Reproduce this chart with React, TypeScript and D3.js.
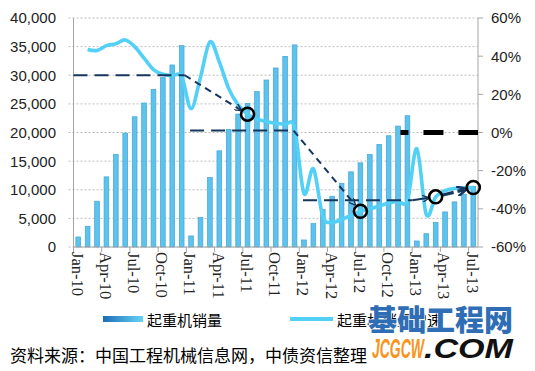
import React, { useEffect } from "react";
import * as d3 from "d3";

// months on the category axis
const months = [
  "Jan-10", "Feb-10", "Mar-10", "Apr-10", "May-10", "Jun-10", "Jul-10", "Aug-10", "Sep-10", "Oct-10", "Nov-10", "Dec-10",
  "Jan-11", "Feb-11", "Mar-11", "Apr-11", "May-11", "Jun-11", "Jul-11", "Aug-11", "Sep-11", "Oct-11", "Nov-11", "Dec-11",
  "Jan-12", "Feb-12", "Mar-12", "Apr-12", "May-12", "Jun-12", "Jul-12", "Aug-12", "Sep-12", "Oct-12", "Nov-12", "Dec-12",
  "Jan-13", "Feb-13", "Mar-13", "Apr-13", "May-13", "Jun-13", "Jul-13",
];

// cumulative crane sales (left axis)
const sales = [
  1750, 3620, 8000, 12250, 16160, 19900, 22750, 25150, 27530, 29580, 31800, 35180,
  1930, 5130, 12130, 16800, 20530, 23220, 25080, 27130, 29170, 31270, 33300, 35300,
  1230, 4080, 6530, 8870, 11080, 13130, 14700, 16160, 17900, 19430, 21120, 22930,
  1050, 2330, 4260, 6130, 7880, 9220, 10600,
];

// yoy growth in % (right axis)
const growth: (number | null)[] = [
  null, 43.5, 43, 45.5, 46.5, 48.5, 45, 39, 33, 30.5, 29.8, 29.3,
  12.5, 29, 47.5, 37, 23, 14.5, 9.6, 7, 5.8, 4.8, 4.2, 2.5,
  -32, -19, -44, -47, -45.5, -43.5, -41.3, -40, -38.5, -37, -36, -35.5,
  -8.5, -43, -33.7, -30.5, -29.3, -29, -28.8,
];

const leftTicks = [0, 5000, 10000, 15000, 20000, 25000, 30000, 35000, 40000];
const rightTicks = [-60, -40, -20, 0, 20, 40, 60];

// annotation: trend levels and marked months
const levels = [
  { from: "Jan-10", to: "Dec-10", value: 30, fromAxis: true },
  { from: "Jan-11", to: "Dec-11", value: 1, fromAxis: false },
  { from: "Jan-12", to: "Dec-12", value: -35.5, fromAxis: false },
];
const marked = ["Jul-11", "Jul-12", "Mar-13", "Jul-13"];
const zeroLineFrom = "Dec-12";

const navy = "#17365D";

const App = () => {
  useEffect(() => {
    document.body.style.margin = "0";
  }, []);

  const W = 535;
  const H = 371;
  const left = 73.5;
  const right = 478;
  const top = 18;
  const bottom = 247;

  const x = d3
    .scaleBand<string>()
    .domain(months)
    .range([left, right])
    .paddingInner(0.5)
    .paddingOuter(0.25);
  const step = x.step();
  const cx = (m: string) => (x(m) ?? 0) + x.bandwidth() / 2;
  const yL = d3.scaleLinear().domain([0, 40000]).range([bottom, top]);
  const yR = d3.scaleLinear().domain([-60, 60]).range([bottom, top]);

  const pts = months.map((m, i) => ({ m, v: growth[i] }));
  const lineGen = d3
    .line<{ m: string; v: number | null }>()
    .defined((d) => d.v != null)
    .x((d) => cx(d.m))
    .y((d) => yR(d.v as number))
    .curve(d3.curveCatmullRom.alpha(0));

  const circ = marked.map((m) => ({ x: cx(m), y: yR(growth[months.indexOf(m)] as number) }));
  const r = 6.5;

  // level lines
  const lvl = levels.map((l) => ({
    x1: l.fromAxis ? left : cx(l.from) - 1,
    x2: cx(l.to) + (l.fromAxis ? 3 : -1),
    y: yR(l.value),
  }));
  lvl[2].x2 = cx(levels[2].to) + 5;

  // arrow from end of a level line towards a circle, shortened
  const shorten = (x1: number, y1: number, x2: number, y2: number, d1: number, d2: number) => {
    const len = Math.hypot(x2 - x1, y2 - y1);
    const ux = (x2 - x1) / len;
    const uy = (y2 - y1) / len;
    return { x1: x1 + ux * d1, y1: y1 + uy * d1, x2: x2 - ux * d2, y2: y2 - uy * d2 };
  };
  const arrows = [
    shorten(lvl[0].x2, lvl[0].y, circ[0].x, circ[0].y, 0, r + 1),
    shorten(lvl[1].x2, lvl[1].y, circ[1].x, circ[1].y, 0, r + 2),
    shorten(lvl[2].x2, lvl[2].y, circ[2].x, circ[2].y, 0, r + 0.5),
  ];
  const last = shorten(circ[2].x, circ[2].y, circ[3].x, circ[3].y, r + 1, r + 1);

  const tickIdx = months.map((_, i) => i).filter((i) => i % 3 === 0);

  const sans = "'Liberation Sans', Arial, sans-serif";
  const cjk = "'Noto Sans CJK SC', sans-serif";

  return (
    <svg width={W} height={H} style={{ display: "block", background: "#fff" }}>
      <defs>
        <marker id="head" viewBox="0 0 10 10" refX="9" refY="5" markerWidth="7" markerHeight="7" markerUnits="userSpaceOnUse" orient="auto">
          <path d="M0,0 L10,5 L0,10" fill="none" stroke={navy} strokeWidth="2" />
        </marker>
        <marker id="headBig" viewBox="0 0 10 10" refX="9" refY="5" markerWidth="10" markerHeight="10" markerUnits="userSpaceOnUse" orient="auto">
          <path d="M0,0 L10,5 L0,10" fill="none" stroke={navy} strokeWidth="2.5" />
        </marker>
        <linearGradient id="legGrad" x1="0" x2="1" y1="0" y2="0">
          <stop offset="0" stopColor="#1C6DB6" />
          <stop offset="1" stopColor="#66D3F6" />
        </linearGradient>
      </defs>

      {/* gridlines */}
      {leftTicks.map((t) => (
        <line key={t} x1={left - 5} x2={right} y1={yL(t)} y2={yL(t)} stroke="#BDBDBD" strokeDasharray="2 2" />
      ))}

      {/* bars */}
      {months.map((m, i) => (
        <rect
          key={m}
          x={x(m)}
          y={yL(sales[i])}
          width={x.bandwidth()}
          height={bottom - yL(sales[i])}
          fill="#5DC3EC"
          stroke="#3FA4D8"
          strokeWidth={0.7}
        />
      ))}

      {/* axes */}
      <line x1={left} x2={left} y1={top} y2={bottom} stroke="#A6A6A6" />
      <line x1={right} x2={right} y1={top} y2={bottom} stroke="#A6A6A6" />
      <line x1={left} x2={right} y1={bottom} y2={bottom} stroke="#A6A6A6" />
      {rightTicks.map((t) => (
        <line key={t} x1={right} x2={right + 5} y1={yR(t)} y2={yR(t)} stroke="#A6A6A6" />
      ))}
      {tickIdx.map((i) => (
        <line key={i} x1={left + i * step} x2={left + i * step} y1={bottom} y2={bottom + 5} stroke="#A6A6A6" />
      ))}

      {/* growth line */}
      <path d={lineGen(pts) ?? ""} fill="none" stroke="#52D0F6" strokeWidth={3.6} strokeLinejoin="round" />

      {/* annotations */}
      {lvl.map((l, i) => (
        <line key={i} x1={l.x1} x2={l.x2} y1={l.y} y2={l.y} stroke={navy} strokeWidth={2} strokeDasharray="14 7" />
      ))}
      {arrows.map((a, i) => (
        <line key={i} {...a} stroke={navy} strokeWidth={2} strokeDasharray={i === 2 ? "30 0" : "7 5"} markerEnd="url(#head)" />
      ))}
      <line {...last} stroke={navy} strokeWidth={3.2} strokeDasharray="11 4" markerEnd="url(#headBig)" />
      <line
        x1={cx(zeroLineFrom) - 7}
        x2={right}
        y1={yR(0)}
        y2={yR(0)}
        stroke="#000"
        strokeWidth={5}
        strokeDasharray="20 15"
        strokeDashoffset={12}
      />
      {circ.map((c, i) => (
        <circle key={i} cx={c.x} cy={c.y} r={r} fill="none" stroke="#000" strokeWidth={2.6} />
      ))}

      {/* left tick labels */}
      {leftTicks.map((t) => (
        <text key={t} x={56} y={yL(t)} dy="0.36em" textAnchor="end" fontFamily={sans} fontSize={15} fill="#222">
          {d3.format(",")(t)}
        </text>
      ))}
      {/* right tick labels */}
      {rightTicks.map((t) => (
        <text key={t} x={491} y={yR(t)} dy="0.36em" textAnchor="start" fontFamily={sans} fontSize={15} fill="#222">
          {`${t}%`}
        </text>
      ))}
      {/* x labels */}
      {tickIdx.map((i) => (
        <text
          key={i}
          transform={`translate(${cx(months[i]) - 1},252) rotate(90)`}
          dy="0.34em"
          textAnchor="start"
          fontFamily="'Liberation Serif', 'Times New Roman', serif"
          fontSize={16.5}
          fill="#222"
        >
          {months[i]}
        </text>
      ))}

      {/* legend */}
      <rect x={103} y={316} width={40} height={6} fill="url(#legGrad)" />
      <text x={147} y={325.5} fontFamily={cjk} fontSize={15} fill="#000">
        起重机销量
      </text>
      <line x1={290} x2={333} y1={319} y2={319} stroke="#52D0F6" strokeWidth={4} />
      <text x={337} y={325.5} fontFamily={cjk} fontSize={15} fill="#000">
        起重机销量增速
      </text>

      {/* watermark */}
      <text
        x={368}
        y={331}
        fontFamily={cjk}
        fontWeight={900}
        fontSize={29}
        fill="#2F6EB5"
        stroke="#fff"
        strokeWidth={1.2}
        paintOrder="stroke"
      >
        基础工程网
      </text>
      <text x={372} y={358} fontFamily={sans} fontWeight={700} fontStyle="italic" fontSize={28} fill="#F7941D" textLength={52} lengthAdjust="spacingAndGlyphs">
        JCGCW
      </text>
      <text x={424} y={358} fontFamily={sans} fontWeight={700} fontStyle="italic" fontSize={28} fill="#111" textLength={89} lengthAdjust="spacingAndGlyphs">
        .COM
      </text>

      {/* source */}
      <text x={10} y={362} fontFamily={cjk} fontSize={17} fill="#000">
        资料来源：中国工程机械信息网，中债资信整理
      </text>
    </svg>
  );
};

export default App;
